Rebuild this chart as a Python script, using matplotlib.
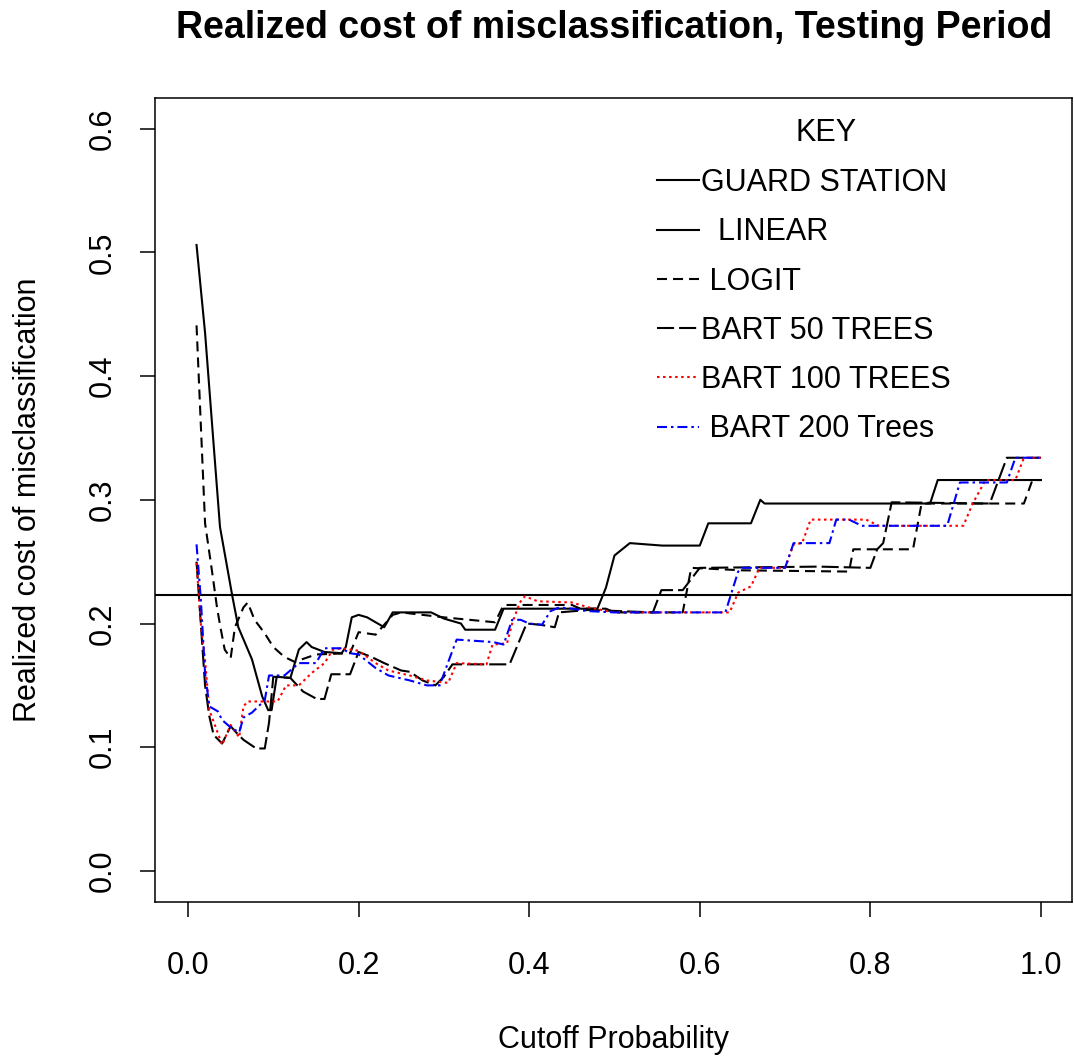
import matplotlib
matplotlib.use("Agg")
import matplotlib.pyplot as plt
from matplotlib.lines import Line2D

plt.rcParams['font.family'] = ['Liberation Sans', 'DejaVu Sans']

# ---------------- data ----------------
guard_station = 0.223

linear_x = [0.01, 0.02, 0.03, 0.0375, 0.052, 0.059, 0.075, 0.087, 0.094, 0.098, 0.104, 0.12, 0.13,
            0.139, 0.145, 0.16, 0.18, 0.185, 0.192, 0.20, 0.21, 0.23, 0.24, 0.285, 0.30, 0.32, 0.325,
            0.36, 0.37, 0.48, 0.49, 0.50, 0.518, 0.556, 0.60, 0.61, 0.66, 0.671, 0.676, 0.87, 0.879, 1.0]
linear_y = [0.506, 0.435, 0.345, 0.278, 0.222, 0.197, 0.171, 0.141, 0.130, 0.130, 0.157, 0.156, 0.179,
            0.185, 0.181, 0.177, 0.176, 0.181, 0.205, 0.207, 0.205, 0.197, 0.209, 0.209, 0.204, 0.200, 0.195,
            0.195, 0.212, 0.212, 0.229, 0.255, 0.265, 0.263, 0.263, 0.281, 0.281, 0.300, 0.297, 0.297, 0.316, 0.316]

logit_x = [0.01, 0.02, 0.028, 0.034, 0.038, 0.043, 0.05, 0.055, 0.065, 0.07, 0.078, 0.09, 0.10, 0.113,
           0.125, 0.15, 0.19, 0.20, 0.22, 0.24, 0.25, 0.30, 0.36, 0.37, 0.45, 0.46, 0.49, 0.50, 0.58,
           0.59, 0.65, 0.775, 0.78, 0.85, 0.86, 0.98, 0.99, 1.0]
logit_y = [0.441, 0.281, 0.243, 0.213, 0.197, 0.179, 0.172, 0.197, 0.213, 0.217, 0.203, 0.192, 0.181, 0.173,
           0.169, 0.175, 0.176, 0.193, 0.191, 0.207, 0.209, 0.205, 0.201, 0.215, 0.215, 0.212, 0.212, 0.209, 0.209,
           0.245, 0.243, 0.242, 0.26, 0.26, 0.297, 0.297, 0.316, 0.316]

bart50_x = [0.01, 0.015, 0.02, 0.025, 0.03, 0.04, 0.05, 0.055, 0.065, 0.08, 0.09, 0.095, 0.10, 0.12,
            0.135, 0.151, 0.16, 0.168, 0.19, 0.20, 0.215, 0.23, 0.25, 0.26, 0.275, 0.29, 0.30, 0.31,
            0.377, 0.397, 0.413, 0.43, 0.435, 0.47, 0.545, 0.555, 0.58, 0.60, 0.74, 0.80, 0.808, 0.815,
            0.825, 0.94, 0.96, 1.0]
bart50_y = [0.25, 0.2, 0.15, 0.125, 0.11, 0.103, 0.117, 0.113, 0.106, 0.099, 0.099, 0.12, 0.157, 0.156,
            0.145, 0.139, 0.139, 0.159, 0.159, 0.177, 0.173, 0.168, 0.162, 0.161, 0.154, 0.150, 0.157, 0.167,
            0.167, 0.2, 0.199, 0.197, 0.209, 0.211, 0.209, 0.227, 0.227, 0.245, 0.246, 0.245, 0.26, 0.265,
            0.298, 0.297, 0.334, 0.334]

bart100_x = [0.01, 0.015, 0.02, 0.025, 0.04, 0.045, 0.05, 0.06, 0.065, 0.07, 0.105, 0.115, 0.13, 0.145,
             0.16, 0.17, 0.18, 0.20, 0.22, 0.235, 0.26, 0.28, 0.305, 0.315, 0.35, 0.357, 0.374, 0.38,
             0.389, 0.395, 0.41, 0.45, 0.47, 0.50, 0.635, 0.645, 0.66, 0.67, 0.70, 0.71, 0.72, 0.73,
             0.795, 0.81, 0.909, 0.92, 0.935, 0.97, 0.98, 1.0]
bart100_y = [0.249, 0.2, 0.17, 0.13, 0.102, 0.11, 0.118, 0.108, 0.133, 0.137, 0.137, 0.15, 0.15, 0.16,
             0.168, 0.179, 0.18, 0.178, 0.168, 0.162, 0.158, 0.154, 0.152, 0.168, 0.167, 0.183, 0.184, 0.2,
             0.217, 0.222, 0.218, 0.217, 0.213, 0.209, 0.209, 0.225, 0.23, 0.245, 0.245, 0.264, 0.265, 0.284,
             0.284, 0.279, 0.279, 0.297, 0.316, 0.316, 0.334, 0.334]

bart200_x = [0.01, 0.015, 0.02, 0.025, 0.035, 0.04, 0.05, 0.06, 0.065, 0.075, 0.09, 0.095, 0.113, 0.125,
             0.13, 0.15, 0.16, 0.18, 0.19, 0.20, 0.22, 0.235, 0.26, 0.28, 0.295, 0.31, 0.315, 0.358,
             0.37, 0.38, 0.39, 0.40, 0.415, 0.425, 0.435, 0.45, 0.47, 0.50, 0.63, 0.645, 0.65, 0.70,
             0.71, 0.752, 0.76, 0.775, 0.79, 0.89, 0.905, 0.96, 0.97, 1.0]
bart200_y = [0.264, 0.22, 0.16, 0.133, 0.129, 0.122, 0.116, 0.112, 0.124, 0.128, 0.138, 0.158, 0.158, 0.165,
             0.168, 0.168, 0.18, 0.18, 0.176, 0.175, 0.164, 0.158, 0.154, 0.15, 0.15, 0.178, 0.187, 0.185,
             0.183, 0.203, 0.203, 0.2, 0.199, 0.21, 0.213, 0.212, 0.21, 0.209, 0.209, 0.242, 0.245, 0.245,
             0.265, 0.265, 0.284, 0.284, 0.279, 0.279, 0.314, 0.314, 0.334, 0.334]

legend_labels = ["GUARD STATION", "  LINEAR", " LOGIT", "BART 50 TREES", "BART 100 TREES", " BART 200 Trees"]
x_ticks = [0.0, 0.2, 0.4, 0.6, 0.8, 1.0]
x_ticklabels = ["0.0", "0.2", "0.4", "0.6", "0.8", "1.0"]
y_ticks = [0.0, 0.1, 0.2, 0.3, 0.4, 0.5, 0.6]
y_ticklabels = ["0.0", "0.1", "0.2", "0.3", "0.4", "0.5", "0.6"]

# ---------------- figure ----------------
W, H = 1074, 1059
fig = plt.figure(figsize=(W / 100, H / 100), dpi=100)
L, R, T, B = 155, 1072, 98, 902
ax = fig.add_axes([L / W, 1 - B / H, (R - L) / W, (B - T) / H])
ax.set_xlim(-0.0387, 1.0364)
ax.set_ylim(-0.0251, 0.6248)

LW = 1.5
styles = {
    'linear': dict(color='black', lw=LW, ls='-'),
    'logit': dict(color='black', lw=LW, dashes=(4.8, 2.9)),
    'bart50': dict(color='black', lw=LW, dashes=(8.2, 2.4)),
    'bart100': dict(color='#FF0000', lw=LW, dashes=(1.2, 1.7)),
    'bart200': dict(color='#0000FF', lw=LW, dashes=(4.8, 1.9, 1.2, 1.9)),
}

ax.axhline(guard_station, color='black', lw=LW)
ax.plot(linear_x, linear_y, **styles['linear'])
ax.plot(logit_x, logit_y, **styles['logit'])
ax.plot(bart50_x, bart50_y, **styles['bart50'])
ax.plot(bart100_x, bart100_y, **styles['bart100'])
ax.plot(bart200_x, bart200_y, **styles['bart200'])

FS = 22
ax.set_xticks(x_ticks)
ax.set_xticklabels(x_ticklabels)
ax.set_yticks(y_ticks)
ax.set_yticklabels(y_ticklabels, rotation=90, va='center')
ax.tick_params(axis='both', labelsize=FS, length=11, width=1.1, direction='out', color='black')
ax.tick_params(axis='x', pad=24)
ax.tick_params(axis='y', pad=16)
for s in ax.spines.values():
    s.set_linewidth(1.1)

fig.text(614 / W, 1 - 28 / H, "Realized cost of misclassification, Testing Period",
         ha='center', va='center', fontsize=27, fontweight='bold')
fig.text(614 / W, 1 - 1040 / H, "Cutoff Probability", ha='center', va='center', fontsize=FS)
fig.text(28 / W, 1 - 500 / H, "Realized cost of misclassification", ha='center', va='center',
         fontsize=FS, rotation=90)

# legend
handles = [Line2D([], [], color='black', lw=LW, ls='-'),
           Line2D([], [], **styles['linear']),
           Line2D([], [], **styles['logit']),
           Line2D([], [], **styles['bart50']),
           Line2D([], [], **styles['bart100']),
           Line2D([], [], **styles['bart200'])]
fig.text(826 / W, 1 - 133 / H, "KEY", ha='center', va='center', fontsize=FS)
leg = fig.legend(handles, legend_labels, loc='upper left', bbox_to_anchor=(657 / W, 1 - 168 / H),
                 frameon=False, fontsize=FS, handlelength=1.38, handletextpad=0.06,
                 labelspacing=0.63, borderpad=0, borderaxespad=0)

fig.savefig("out.png", dpi=100)
